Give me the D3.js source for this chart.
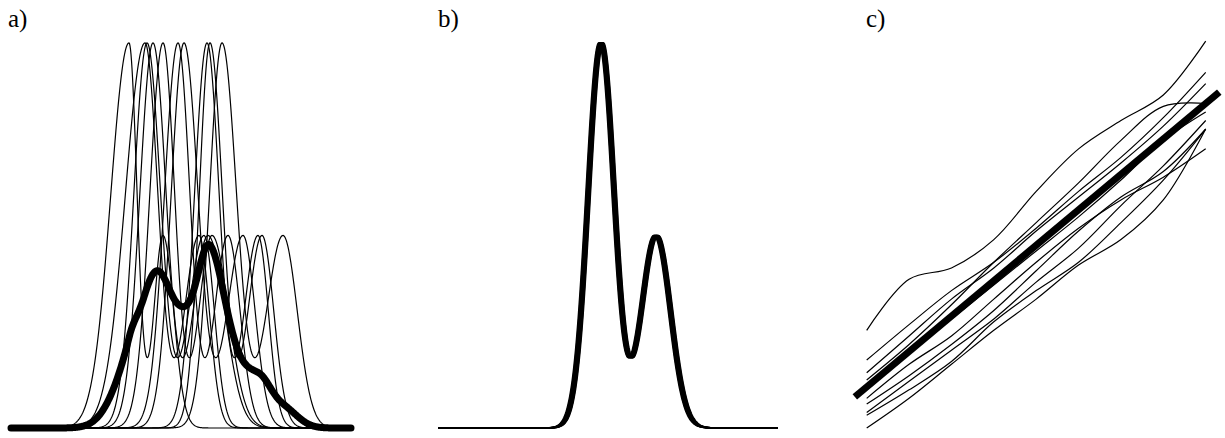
<!DOCTYPE html>
<html>
<head>
<meta charset="utf-8">
<script src="https://cdn.jsdelivr.net/npm/d3@7"></script>
<style>
  body { margin: 0; background: #fff; }
  svg { display: block; }
</style>
</head>
<body>
<div id="chart"></div>
<script>
const width = 1225;
const height = 438;

// time axis is 0..340 samples for every panel
// a) landmarks of each raw curve: where it leaves the baseline, big peak, small peak, back to baseline
const riseAt  = [67, 79, 99, 105, 115, 129, 137, 161, 169, 176];
const tallAt  = [118, 134, 136, 142, 152, 167, 173, 196, 199, 211];
const smallAt = [152, 188, 193, 197, 201, 217, 232, 247, 251, 272];
const fallAt  = [182, 217, 222, 244, 247, 251, 266, 276, 284, 312];

// template (the aligned shape in b)
const tmplTall = 163, tmplSmall = 218;
const tmplTallHeight = 1.0, tmplSmallHeight = 0.5;
const tmplTallWidth = 13, tmplSmallWidth = 14.5;

// b) residual shifts of the aligned curves
const alignedShift = [-2.2, -1.6, -1.0, -0.5, 0, 0.4, 0.9, 1.4, 1.9, 2.4];

// c) warping functions, read at t = 0, .125, ..., 1
const warpT = [0, 0.125, 0.25, 0.375, 0.5, 0.625, 0.75, 0.875, 1];
const warps = [
  [0.20, 0.38, 0.42, 0.52, 0.69, 0.84, 0.94, 1.03, 1.22],
  [0.095, 0.22, 0.34, 0.44, 0.56, 0.69, 0.81, 0.95, 1.11],
  [0.05, 0.18, 0.31, 0.42, 0.55, 0.67, 0.79, 0.92, 1.07],
  [0.025, 0.15, 0.29, 0.44, 0.58, 0.72, 0.87, 0.99, 1.00],
  [0.00, 0.13, 0.24, 0.36, 0.48, 0.60, 0.73, 0.87, 0.97],
  [-0.04, 0.08, 0.18, 0.31, 0.44, 0.56, 0.66, 0.74, 0.84],
  [-0.06, 0.04, 0.15, 0.27, 0.41, 0.55, 0.67, 0.76, 0.91],
  [-0.09, 0.02, 0.13, 0.24, 0.37, 0.49, 0.64, 0.78, 0.94],
  [-0.10, -0.01, 0.09, 0.23, 0.34, 0.44, 0.58, 0.73, 0.91],
  [-0.145, -0.04, 0.08, 0.20, 0.31, 0.43, 0.52, 0.66, 0.91]
];
const meanWarpX = [-0.035, 1.04];

const labels = ["a)", "b)", "c)"];

const svg = d3.select("#chart").append("svg")
    .attr("width", width)
    .attr("height", height);

const tGrid = d3.range(0, 340.5, 0.5);
const gauss = (u, c, s) => Math.exp(-((u - c) ** 2) / (2 * s * s));
const template = u => tmplTallHeight * gauss(u, tmplTall, tmplTallWidth)
                    + tmplSmallHeight * gauss(u, tmplSmall, tmplSmallWidth);
const tmplRise = tmplTall - 2.8 * tmplTallWidth;
const tmplFall = tmplSmall + 2.8 * tmplSmallWidth;

// each raw curve = template composed with a piecewise linear time warp through its landmarks
const rawCurves = tallAt.map((c, i) => {
    const warp = d3.scaleLinear()
        .domain([riseAt[i], c, smallAt[i], fallAt[i]])
        .range([tmplRise, tmplTall, tmplSmall, tmplFall]);
    return tGrid.map(t => [t, template(warp(t))]);
});
const meanCurve = tGrid.map((t, j) => [t, d3.mean(rawCurves, c => c[j][1])]);

const y = d3.scaleLinear().domain([0, 1]).range([428, 43]);
const xA = d3.scaleLinear().domain([0, 340]).range([11, 351]);
const xB = d3.scaleLinear().domain([0, 340]).range([438, 778]);

const lineA = d3.line().x(d => xA(d[0])).y(d => y(d[1]));
const lineB = d3.line().x(d => xB(d[0])).y(d => y(d[1]));

const gA = svg.append("g");
gA.selectAll("path.thin").data(rawCurves).join("path")
    .attr("class", "thin")
    .attr("d", lineA)
    .attr("fill", "none").attr("stroke", "#000").attr("stroke-width", 1.2);
gA.append("path").datum(meanCurve)
    .attr("d", lineA)
    .attr("fill", "none").attr("stroke", "#000").attr("stroke-width", 7)
    .attr("stroke-linecap", "round").attr("stroke-linejoin", "round");

const alignedCurves = alignedShift.map(s => tGrid.map(t => [t, template(t - s)]));

const gB = svg.append("g");
gB.selectAll("path.thin").data(alignedCurves).join("path")
    .attr("class", "thin")
    .attr("d", lineB)
    .attr("fill", "none").attr("stroke", "#000").attr("stroke-width", 1.6);

// panel c)
const xC = d3.scaleLinear().domain([0, 1]).range([866.7, 1205.7]);
const yC = d3.scaleLinear().domain([0, 1]).range([387, 103.5]);
const lineC = d3.line().x(d => xC(d[0])).y(d => yC(d[1])).curve(d3.curveCatmullRom.alpha(0.5));

const gC = svg.append("g");
gC.selectAll("path.thin").data(warps.map(w => w.map((v, i) => [warpT[i], v]))).join("path")
    .attr("class", "thin")
    .attr("d", lineC)
    .attr("fill", "none").attr("stroke", "#000").attr("stroke-width", 1.2);
gC.append("path").datum(meanWarpX.map(t => [t, t]))
    .attr("d", d3.line().x(d => xC(d[0])).y(d => yC(d[1])))
    .attr("fill", "none").attr("stroke", "#000").attr("stroke-width", 7);

svg.selectAll("text.lbl").data(labels).join("text")
    .attr("class", "lbl")
    .attr("font-family", "'Liberation Serif', 'Times New Roman', serif")
    .attr("font-size", 25)
    .attr("x", (d, i) => [8, 438, 866][i])
    .attr("y", 27)
    .text(d => d);
</script>
</body>
</html>
